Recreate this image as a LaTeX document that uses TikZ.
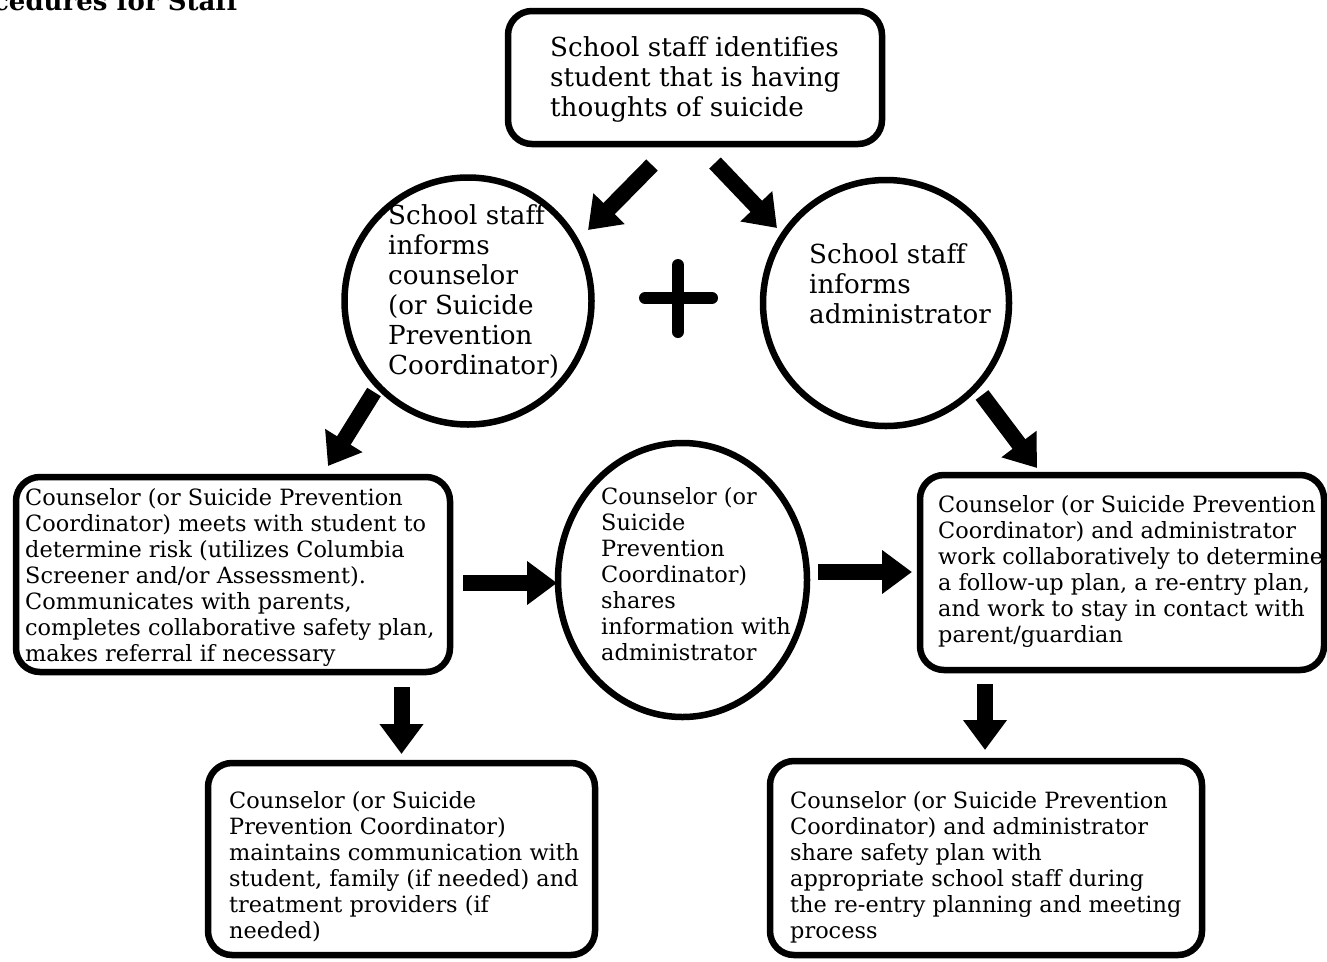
\documentclass[tikz,border=0pt]{standalone}
\usepackage{fontspec}
\setmainfont[Ligatures=NoCommon]{DejaVu Serif}
\usetikzlibrary{arrows.meta,shapes.geometric}
\begin{document}
\begin{tikzpicture}[x=1pt,y=-1pt,
  rbox/.style={draw,line width=6.5pt,rounded corners=24pt,inner sep=0pt},
  circ/.style={draw,line width=6.5pt,circle,inner sep=0pt},
  ell/.style={draw,line width=6.5pt,ellipse,inner sep=0pt},
  bigtxt/.style={font=\fontsize{26.2}{30}\selectfont,align=left,anchor=north west,inner sep=0pt},
  smalltxt/.style={font=\fontsize{22.4}{26}\selectfont,align=left,anchor=north west,inner sep=0pt},
  fat/.style={line width=16pt,-{Triangle[length=30pt,width=42pt]}},
  plusbar/.style={line width=12pt,line cap=round}]
\useasboundingbox (0,0) rectangle (1327,961);
\clip (0,0) rectangle (1327,961);
\fill[white] (0,0) rectangle (1327,961);

% title (cut off at top)
\node[font=\bfseries\fontsize{26}{30}\selectfont,anchor=base east,inner sep=0pt] (title) at (238,10) {Procedures for Staff};

% shapes
\node[rbox,minimum width=374pt,minimum height=133pt] (top) at (695,77.5) {};
\node[circ,minimum size=247pt] (lc) at (468,301) {};
\node[circ,minimum size=246pt] (rc) at (886,303) {};
\node[ell,minimum width=249pt,minimum height=274pt] (mid) at (682.5,580) {};
\node[rbox,minimum width=434pt,minimum height=195pt] (lb) at (233,574.5) {};
\node[rbox,minimum width=404pt,minimum height=195pt] (rb) at (1122,572.5) {};
\node[rbox,minimum width=387pt,minimum height=192pt] (bl) at (401.5,859) {};
\node[rbox,minimum width=432pt,minimum height=194pt] (br) at (986,858) {};

% texts
\node[bigtxt] (toptxt) at (550,36) {School staff identifies\\student that is having\\thoughts of suicide};
\node[bigtxt] (lctxt) at (388,204) {School staff\\informs\\counselor\\(or Suicide\\Prevention\\Coordinator)};
\node[bigtxt] (rctxt) at (809,243) {School staff\\informs\\administrator};
\node[smalltxt] (lbtxt) at (25,488) {Counselor (or Suicide Prevention\\Coordinator) meets with student to\\determine risk (utilizes Columbia\\Screener and/or Assessment).\\Communicates with parents,\\completes collaborative safety plan,\\makes referral if necessary};
\node[smalltxt] (midtxt) at (601,487) {Counselor (or\\Suicide\\Prevention\\Coordinator)\\shares\\information with\\administrator};
\node[smalltxt] (rbtxt) at (938,495) {Counselor (or Suicide Prevention\\Coordinator) and administrator\\work collaboratively to determine\\a follow-up plan, a re-entry plan,\\and work to stay in contact with\\parent/guardian};
\node[smalltxt] (bltxt) at (229,791) {Counselor (or Suicide\\Prevention Coordinator)\\maintains communication with\\student, family (if needed) and\\treatment providers (if\\needed)};
\node[smalltxt] (brtxt) at (790,791) {Counselor (or Suicide Prevention\\Coordinator) and administrator\\share safety plan with\\appropriate school staff during\\the re-entry planning and meeting\\process};

% plus sign
\coordinate (plh) at (645,298); \coordinate (prh) at (712,298);
\coordinate (ptv) at (678,265); \coordinate (pbv) at (678,332);
\draw[plusbar] (plh) -- (prh);
\draw[plusbar] (ptv) -- (pbv);

% arrow end points
\coordinate (a1s) at (652,165); \coordinate (a1e) at (588,230);
\coordinate (a2s) at (715,163); \coordinate (a2e) at (777,228);
\coordinate (a3s) at (374,392); \coordinate (a3e) at (328,466);
\coordinate (a4s) at (982,395); \coordinate (a4e) at (1037,468);
\coordinate (a5s) at (463,583); \coordinate (a5e) at (557,583);
\coordinate (a6s) at (818,572); \coordinate (a6e) at (912,572);
\coordinate (a7s) at (401.5,687); \coordinate (a7e) at (401.5,754);
\coordinate (a8s) at (985,684); \coordinate (a8e) at (985,750);

\draw[fat] (a1s) -- (a1e);
\draw[fat] (a2s) -- (a2e);
\draw[fat] (a3s) -- (a3e);
\draw[fat] (a4s) -- (a4e);
\draw[fat] (a5s) -- (a5e);
\draw[fat] (a6s) -- (a6e);
\draw[fat] (a7s) -- (a7e);
\draw[fat] (a8s) -- (a8e);
\end{tikzpicture}
\end{document}
